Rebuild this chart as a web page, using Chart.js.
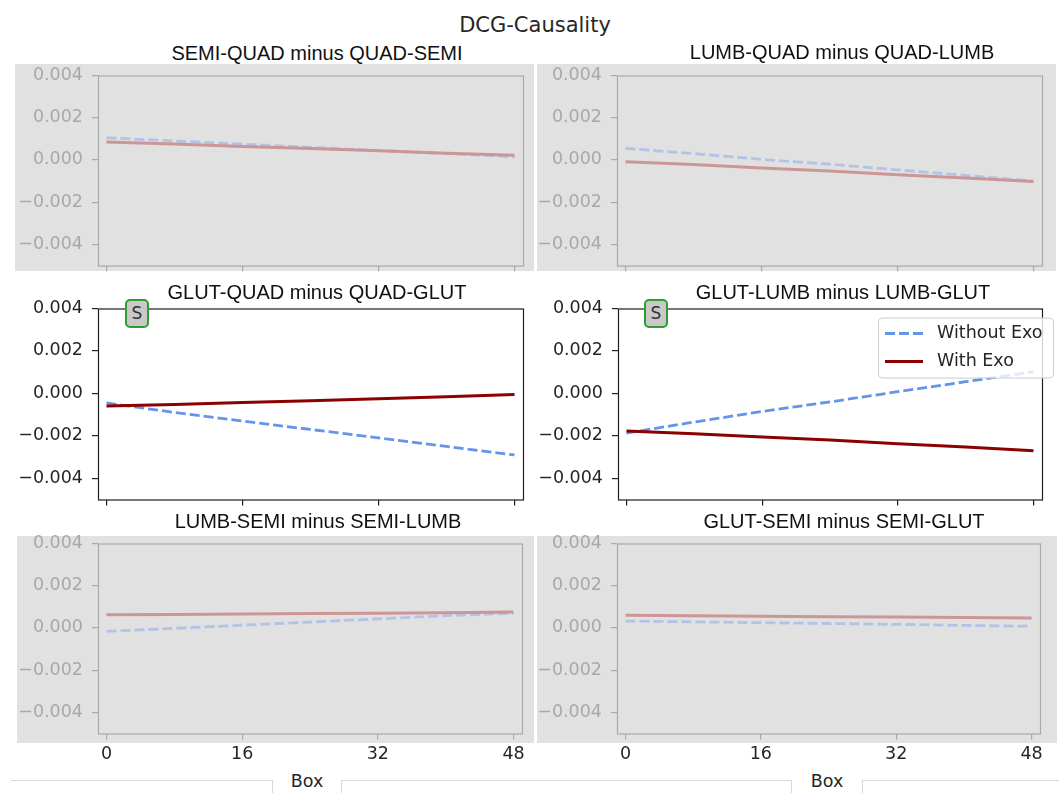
<!DOCTYPE html>
<html lang="en">
<head>
<meta charset="UTF-8">
<title>DCG-Causality</title>
<script src="https://cdn.jsdelivr.net/npm/chart.js"></script>
<style>
    body { margin: 0; width: 1059px; height: 793px; background: #fff; position: relative; overflow: hidden; font-family: 'DejaVu Sans', sans-serif; }
    .shade { position: absolute; background: #e1e1e1; }
    .panel { position: absolute; }
    .centered { position: absolute; white-space: nowrap; transform: translate(-50%, -50%); }
    .suptitle { font-size: 21px; color: #262626; }
    .subtitle { font-family: 'Liberation Sans', Arial, sans-serif; font-size: 20px; color: #111; }
    .xlabel { font-size: 17.5px; color: #262626; }
    .badge { position: absolute; width: 24px; height: 29px; box-sizing: border-box; border: 2px solid #2e9e2e; border-radius: 5px; background: #c9c9c9; color: #333; font-size: 17px; line-height: 25px; text-align: center; }
    .tab { position: absolute; top: 780px; height: 13px; border-top: 1px solid #d9d9d9; box-sizing: border-box; }
</style>
</head>
<body>
    <div class="centered suptitle" style="left:535px; top:25px;">DCG-Causality</div>

    <div class="tab" style="left:11px; width:262px; border-right:1px solid #d9d9d9;"></div>
    <div class="tab" style="left:341px; width:451px; border-left:1px solid #d9d9d9; border-right:1px solid #d9d9d9;"></div>
    <div class="tab" style="left:862px; width:197px; border-left:1px solid #d9d9d9;"></div>
    <div class="centered xlabel" style="left:307px; top:781px;">Box</div>
    <div class="centered xlabel" style="left:827px; top:781px;">Box</div>

    <script>
        // box index on the x axis
        const boxes = [0, 8, 16, 24, 32, 40, 48];
        const xTicks = [0, 16, 32, 48];
        const yTicks = [-0.004, -0.002, 0, 0.002, 0.004];
        const seriesNames = ['Without Exo', 'With Exo'];

        const semiQuadWithout = [0.00105, 0.0009, 0.00075, 0.0006, 0.00045, 0.0003, 0.00015];
        const semiQuadWith    = [0.00085, 0.00075, 0.00064, 0.00054, 0.00043, 0.00032, 0.00022];

        const lumbQuadWithout = [0.00055, 0.0003, 0.00003, -0.0002, -0.00047, -0.00073, -0.001];
        const lumbQuadWith    = [-0.00008, -0.00022, -0.00038, -0.00052, -0.0007, -0.00085, -0.00102];

        const glutQuadWithout = [-0.00045, -0.0009, -0.0013, -0.0017, -0.0021, -0.0025, -0.0029];
        const glutQuadWith    = [-0.0006, -0.00052, -0.00043, -0.00035, -0.00025, -0.00016, -0.00005];

        const glutLumbWithout = [-0.00187, -0.00135, -0.00085, -0.0004, 0.00008, 0.00055, 0.00102];
        const glutLumbWith    = [-0.00177, -0.0019, -0.00205, -0.0022, -0.00237, -0.00253, -0.0027];

        const lumbSemiWithout = [-0.00016, -0.00002, 0.00013, 0.00028, 0.00043, 0.00058, 0.0007];
        const lumbSemiWith    = [0.00063, 0.00064, 0.00066, 0.00068, 0.0007, 0.00072, 0.00075];

        const glutSemiWithout = [0.00033, 0.00029, 0.00025, 0.00021, 0.00017, 0.00012, 0.00008];
        const glutSemiWith    = [0.0006, 0.00058, 0.00055, 0.00053, 0.00052, 0.0005, 0.00047];

        const normal = { blue: '#6495ed', red: '#8b0000', frame: '#1f1f1f', tick: '#262626' };
        const faded  = { blue: '#b3c3e6', red: '#cc9696', frame: '#a9a9a9', tick: '#a8a8a8' };

        const panels = [
            { title: 'SEMI-QUAD minus QUAD-SEMI', without: semiQuadWithout, with: semiQuadWith,
              frame: [98, 75, 523, 265], titleAt: [317, 53], shade: [15, 64, 534, 271] },
            { title: 'LUMB-QUAD minus QUAD-LUMB', without: lumbQuadWithout, with: lumbQuadWith,
              frame: [617, 75, 1042, 265], titleAt: [842, 52], shade: [537, 64, 1056, 271] },
            { title: 'GLUT-QUAD minus QUAD-GLUT', without: glutQuadWithout, with: glutQuadWith,
              frame: [98, 308, 523, 499], titleAt: [317, 292], badge: [125, 299] },
            { title: 'GLUT-LUMB minus LUMB-GLUT', without: glutLumbWithout, with: glutLumbWith,
              frame: [618, 308, 1042, 499], titleAt: [843, 292], badge: [644, 299], legend: true },
            { title: 'LUMB-SEMI minus SEMI-LUMB', without: lumbSemiWithout, with: lumbSemiWith,
              frame: [98, 543, 522, 733], titleAt: [318, 521], shade: [17, 536, 534, 743], xLabels: true },
            { title: 'GLUT-SEMI minus SEMI-GLUT', without: glutSemiWithout, with: glutSemiWith,
              frame: [617, 543, 1040, 733], titleAt: [844, 521], shade: [537, 536, 1057, 743], xLabels: true }
        ];

        const tickFont = { family: 'DejaVu Sans', size: 17.5 };
        const fmtY = v => (v < 0 ? '\u2212' : '') + Math.abs(v).toFixed(3);
        const toPoints = vals => boxes.map((b, i) => ({ x: b, y: vals[i] }));

        // box around the plot area, plus the legend where asked
        const framePlugin = {
            id: 'frameBox',
            afterDatasetsDraw(chart, args, opts) {
                const { ctx, chartArea: a } = chart;
                ctx.save();
                ctx.strokeStyle = opts.color;
                ctx.lineWidth = 1.2;
                ctx.strokeRect(a.left + 0.5, a.top + 0.5, a.right - a.left, a.bottom - a.top);

                if (opts.legend) {
                    const lx = a.right - 164, ly = a.top + 9, lw = 175, lh = 60;
                    ctx.fillStyle = 'rgba(255,255,255,0.8)';
                    ctx.strokeStyle = '#cccccc';
                    ctx.lineWidth = 1;
                    ctx.beginPath();
                    ctx.roundRect(lx + 0.5, ly + 0.5, lw, lh, 4);
                    ctx.fill();
                    ctx.stroke();
                    ctx.font = '17.5px "DejaVu Sans"';
                    ctx.textBaseline = 'middle';
                    chart.data.datasets.forEach((ds, i) => {
                        const y = ly + 16 + i * 28;
                        ctx.strokeStyle = ds.borderColor;
                        ctx.lineWidth = ds.borderWidth;
                        ctx.setLineDash(ds.borderDash || []);
                        ctx.beginPath();
                        ctx.moveTo(lx + 7, y);
                        ctx.lineTo(lx + 45, y);
                        ctx.stroke();
                        ctx.setLineDash([]);
                        ctx.fillStyle = '#262626';
                        ctx.fillText(ds.label, lx + 59, y);
                    });
                }
                ctx.restore();
            }
        };

        panels.forEach(p => {
            const pal = p.shade ? faded : normal;
            const [l, t, r, b] = p.frame;
            const xh = p.xLabels ? 34 : 10;

            if (p.shade) {
                const s = document.createElement('div');
                s.className = 'shade';
                s.style.left = p.shade[0] + 'px';
                s.style.top = p.shade[1] + 'px';
                s.style.width = (p.shade[2] - p.shade[0]) + 'px';
                s.style.height = (p.shade[3] - p.shade[1]) + 'px';
                document.body.appendChild(s);
            }

            const title = document.createElement('div');
            title.className = 'centered subtitle';
            title.style.left = p.titleAt[0] + 'px';
            title.style.top = p.titleAt[1] + 'px';
            title.textContent = p.title;
            document.body.appendChild(title);

            const wrap = document.createElement('div');
            wrap.className = 'panel';
            const canvas = document.createElement('canvas');
            canvas.width = (r - l) + 90 + 15;
            canvas.height = (b - t) + 10 + xh;
            wrap.appendChild(canvas);
            document.body.appendChild(wrap);

            const chart = new Chart(canvas, {
                type: 'line',
                data: {
                    datasets: [
                        { label: seriesNames[0], data: toPoints(p.without), borderColor: pal.blue,
                          borderWidth: 2.8, borderDash: [10, 4], pointRadius: 0, tension: 0, order: 1 },
                        { label: seriesNames[1], data: toPoints(p.with), borderColor: pal.red,
                          borderWidth: 3, pointRadius: 0, tension: 0, order: 0 }
                    ]
                },
                options: {
                    responsive: false,
                    maintainAspectRatio: false,
                    animation: false,
                    layout: { padding: { left: 0, top: 10, right: 15, bottom: 0 } },
                    plugins: {
                        legend: { display: false },
                        tooltip: { enabled: false },
                        frameBox: { color: pal.frame, legend: !!p.legend }
                    },
                    scales: {
                        x: {
                            type: 'linear', min: -1, max: 49,
                            afterBuildTicks: axis => { axis.ticks = xTicks.map(v => ({ value: v })); },
                            afterFit: axis => { axis.height = xh; },
                            border: { display: false },
                            grid: { drawOnChartArea: false, drawTicks: true, tickLength: 6, color: pal.frame, lineWidth: 1.2 },
                            ticks: { display: !!p.xLabels, color: '#262626', font: tickFont, padding: 4,
                                     maxRotation: 0, autoSkip: false, callback: v => String(v) }
                        },
                        y: {
                            min: -0.005, max: 0.004,
                            afterBuildTicks: axis => { axis.ticks = yTicks.map(v => ({ value: v })); },
                            afterFit: axis => { axis.width = 90; },
                            border: { display: false },
                            grid: { drawOnChartArea: false, drawTicks: true, tickLength: 6, color: pal.frame, lineWidth: 1.2 },
                            ticks: { color: pal.tick, font: tickFont, padding: 9, autoSkip: false, callback: fmtY }
                        }
                    }
                },
                plugins: [framePlugin]
            });

            // the library adds room for label overflow; resize so the plot box lands on the frame
            let a = chart.chartArea;
            chart.resize(canvas.width + (r - l) - (a.right - a.left), canvas.height + (b - t) - (a.bottom - a.top));
            a = chart.chartArea;
            wrap.style.left = (l - a.left) + 'px';
            wrap.style.top = (t - a.top) + 'px';

            if (p.badge) {
                const bd = document.createElement('div');
                bd.className = 'badge';
                bd.style.left = p.badge[0] + 'px';
                bd.style.top = p.badge[1] + 'px';
                bd.textContent = 'S';
                document.body.appendChild(bd);
            }
        });
    </script>
</body>
</html>
